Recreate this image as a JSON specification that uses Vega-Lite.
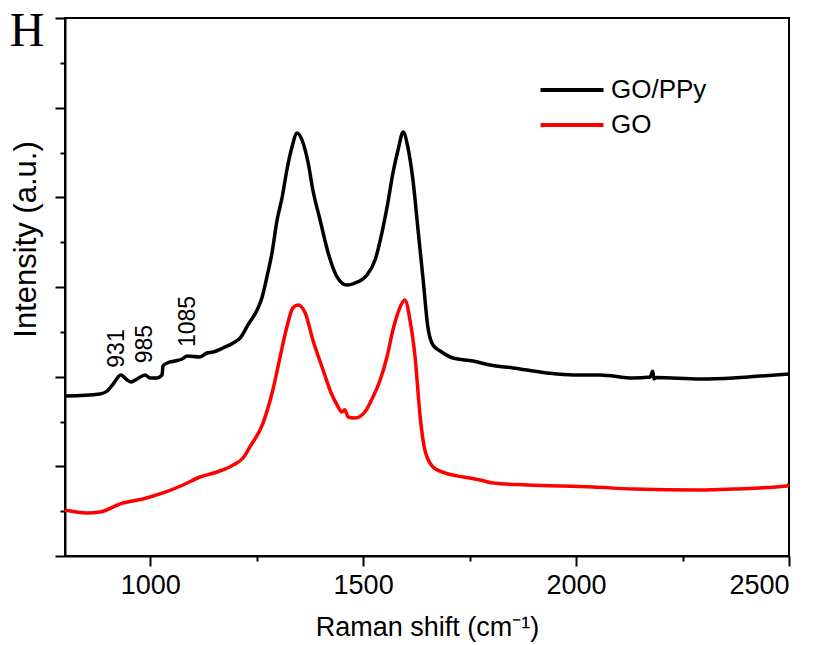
{
  "$schema": "https://vega.github.io/schema/vega-lite/v6.json",
  "width": 724,
  "height": 538,
  "autosize": {"type": "none"},
  "padding": {"left": 65, "top": 18, "right": 36, "bottom": 89},
  "background": "white",
  "config": {
    "view": {"stroke": "black", "strokeWidth": 2},
    "axis": {"domainColor": "black", "domainWidth": 2, "tickColor": "black", "tickWidth": 2, "grid": false, "labelFont": "Liberation Sans", "titleFont": "Liberation Sans", "labelColor": "black", "titleColor": "black", "titleFontWeight": "normal"}
  },
  "datasets": {
    "spectra": [
      {"shift": 800, "intensity": 1.784, "sample": "GO/PPy"},
      {"shift": 882, "intensity": 1.807, "sample": "GO/PPy"},
      {"shift": 899, "intensity": 1.840, "sample": "GO/PPy"},
      {"shift": 913, "intensity": 1.918, "sample": "GO/PPy"},
      {"shift": 931, "intensity": 2.019, "sample": "GO/PPy"},
      {"shift": 946, "intensity": 1.963, "sample": "GO/PPy"},
      {"shift": 955, "intensity": 1.940, "sample": "GO/PPy"},
      {"shift": 969, "intensity": 1.974, "sample": "GO/PPy"},
      {"shift": 988, "intensity": 2.019, "sample": "GO/PPy"},
      {"shift": 1000, "intensity": 1.985, "sample": "GO/PPy"},
      {"shift": 1016, "intensity": 1.985, "sample": "GO/PPy"},
      {"shift": 1028, "intensity": 2.019, "sample": "GO/PPy"},
      {"shift": 1030, "intensity": 2.119, "sample": "GO/PPy"},
      {"shift": 1040, "intensity": 2.152, "sample": "GO/PPy"},
      {"shift": 1058, "intensity": 2.175, "sample": "GO/PPy"},
      {"shift": 1075, "intensity": 2.197, "sample": "GO/PPy"},
      {"shift": 1087, "intensity": 2.230, "sample": "GO/PPy"},
      {"shift": 1117, "intensity": 2.219, "sample": "GO/PPy"},
      {"shift": 1133, "intensity": 2.264, "sample": "GO/PPy"},
      {"shift": 1148, "intensity": 2.275, "sample": "GO/PPy"},
      {"shift": 1171, "intensity": 2.320, "sample": "GO/PPy"},
      {"shift": 1195, "intensity": 2.375, "sample": "GO/PPy"},
      {"shift": 1211, "intensity": 2.430, "sample": "GO/PPy"},
      {"shift": 1230, "intensity": 2.580, "sample": "GO/PPy"},
      {"shift": 1251, "intensity": 2.743, "sample": "GO/PPy"},
      {"shift": 1263, "intensity": 2.888, "sample": "GO/PPy"},
      {"shift": 1274, "intensity": 3.111, "sample": "GO/PPy"},
      {"shift": 1286, "intensity": 3.379, "sample": "GO/PPy"},
      {"shift": 1298, "intensity": 3.747, "sample": "GO/PPy"},
      {"shift": 1310, "intensity": 4.004, "sample": "GO/PPy"},
      {"shift": 1321, "intensity": 4.305, "sample": "GO/PPy"},
      {"shift": 1333, "intensity": 4.561, "sample": "GO/PPy"},
      {"shift": 1345, "intensity": 4.717, "sample": "GO/PPy"},
      {"shift": 1359, "intensity": 4.606, "sample": "GO/PPy"},
      {"shift": 1371, "intensity": 4.383, "sample": "GO/PPy"},
      {"shift": 1382, "intensity": 4.082, "sample": "GO/PPy"},
      {"shift": 1399, "intensity": 3.747, "sample": "GO/PPy"},
      {"shift": 1418, "intensity": 3.379, "sample": "GO/PPy"},
      {"shift": 1439, "intensity": 3.111, "sample": "GO/PPy"},
      {"shift": 1462, "intensity": 3.022, "sample": "GO/PPy"},
      {"shift": 1481, "intensity": 3.044, "sample": "GO/PPy"},
      {"shift": 1509, "intensity": 3.134, "sample": "GO/PPy"},
      {"shift": 1528, "intensity": 3.301, "sample": "GO/PPy"},
      {"shift": 1544, "intensity": 3.602, "sample": "GO/PPy"},
      {"shift": 1558, "intensity": 3.937, "sample": "GO/PPy"},
      {"shift": 1570, "intensity": 4.271, "sample": "GO/PPy"},
      {"shift": 1582, "intensity": 4.528, "sample": "GO/PPy"},
      {"shift": 1594, "intensity": 4.728, "sample": "GO/PPy"},
      {"shift": 1605, "intensity": 4.561, "sample": "GO/PPy"},
      {"shift": 1617, "intensity": 4.193, "sample": "GO/PPy"},
      {"shift": 1629, "intensity": 3.636, "sample": "GO/PPy"},
      {"shift": 1641, "intensity": 3.078, "sample": "GO/PPy"},
      {"shift": 1652, "intensity": 2.554, "sample": "GO/PPy"},
      {"shift": 1664, "intensity": 2.353, "sample": "GO/PPy"},
      {"shift": 1681, "intensity": 2.286, "sample": "GO/PPy"},
      {"shift": 1711, "intensity": 2.208, "sample": "GO/PPy"},
      {"shift": 1758, "intensity": 2.175, "sample": "GO/PPy"},
      {"shift": 1798, "intensity": 2.130, "sample": "GO/PPy"},
      {"shift": 1852, "intensity": 2.097, "sample": "GO/PPy"},
      {"shift": 1932, "intensity": 2.041, "sample": "GO/PPy"},
      {"shift": 1993, "intensity": 2.019, "sample": "GO/PPy"},
      {"shift": 2056, "intensity": 2.019, "sample": "GO/PPy"},
      {"shift": 2134, "intensity": 1.985, "sample": "GO/PPy"},
      {"shift": 2174, "intensity": 1.996, "sample": "GO/PPy"},
      {"shift": 2180, "intensity": 2.060, "sample": "GO/PPy"},
      {"shift": 2183, "intensity": 1.975, "sample": "GO/PPy"},
      {"shift": 2189, "intensity": 1.990, "sample": "GO/PPy"},
      {"shift": 2291, "intensity": 1.974, "sample": "GO/PPy"},
      {"shift": 2369, "intensity": 1.985, "sample": "GO/PPy"},
      {"shift": 2432, "intensity": 2.007, "sample": "GO/PPy"},
      {"shift": 2500, "intensity": 2.030, "sample": "GO/PPy"},
      {"shift": 800, "intensity": 0.513, "sample": "GO"},
      {"shift": 852, "intensity": 0.480, "sample": "GO"},
      {"shift": 882, "intensity": 0.491, "sample": "GO"},
      {"shift": 936, "intensity": 0.591, "sample": "GO"},
      {"shift": 983, "intensity": 0.636, "sample": "GO"},
      {"shift": 1030, "intensity": 0.703, "sample": "GO"},
      {"shift": 1077, "intensity": 0.792, "sample": "GO"},
      {"shift": 1117, "intensity": 0.881, "sample": "GO"},
      {"shift": 1157, "intensity": 0.937, "sample": "GO"},
      {"shift": 1195, "intensity": 1.015, "sample": "GO"},
      {"shift": 1218, "intensity": 1.093, "sample": "GO"},
      {"shift": 1234, "intensity": 1.216, "sample": "GO"},
      {"shift": 1265, "intensity": 1.483, "sample": "GO"},
      {"shift": 1288, "intensity": 1.851, "sample": "GO"},
      {"shift": 1305, "intensity": 2.219, "sample": "GO"},
      {"shift": 1321, "intensity": 2.554, "sample": "GO"},
      {"shift": 1335, "intensity": 2.766, "sample": "GO"},
      {"shift": 1347, "intensity": 2.799, "sample": "GO"},
      {"shift": 1364, "intensity": 2.710, "sample": "GO"},
      {"shift": 1382, "intensity": 2.409, "sample": "GO"},
      {"shift": 1406, "intensity": 2.074, "sample": "GO"},
      {"shift": 1427, "intensity": 1.795, "sample": "GO"},
      {"shift": 1439, "intensity": 1.684, "sample": "GO"},
      {"shift": 1450, "intensity": 1.606, "sample": "GO"},
      {"shift": 1457, "intensity": 1.630, "sample": "GO"},
      {"shift": 1465, "intensity": 1.550, "sample": "GO"},
      {"shift": 1481, "intensity": 1.539, "sample": "GO"},
      {"shift": 1504, "intensity": 1.606, "sample": "GO"},
      {"shift": 1523, "intensity": 1.773, "sample": "GO"},
      {"shift": 1540, "intensity": 1.963, "sample": "GO"},
      {"shift": 1556, "intensity": 2.219, "sample": "GO"},
      {"shift": 1570, "intensity": 2.520, "sample": "GO"},
      {"shift": 1587, "intensity": 2.777, "sample": "GO"},
      {"shift": 1598, "intensity": 2.855, "sample": "GO"},
      {"shift": 1610, "intensity": 2.632, "sample": "GO"},
      {"shift": 1622, "intensity": 2.219, "sample": "GO"},
      {"shift": 1634, "intensity": 1.550, "sample": "GO"},
      {"shift": 1645, "intensity": 1.182, "sample": "GO"},
      {"shift": 1664, "intensity": 0.993, "sample": "GO"},
      {"shift": 1692, "intensity": 0.926, "sample": "GO"},
      {"shift": 1735, "intensity": 0.881, "sample": "GO"},
      {"shift": 1775, "intensity": 0.848, "sample": "GO"},
      {"shift": 1805, "intensity": 0.814, "sample": "GO"},
      {"shift": 1885, "intensity": 0.792, "sample": "GO"},
      {"shift": 2040, "intensity": 0.770, "sample": "GO"},
      {"shift": 2134, "intensity": 0.747, "sample": "GO"},
      {"shift": 2291, "intensity": 0.736, "sample": "GO"},
      {"shift": 2369, "intensity": 0.747, "sample": "GO"},
      {"shift": 2495, "intensity": 0.781, "sample": "GO"},
      {"shift": 2500, "intensity": 0.803, "sample": "GO"}
    ],
    "peaks": [
      {"shift": 922, "intensity": 2.10, "label": "931"},
      {"shift": 988, "intensity": 2.15, "label": "985"},
      {"shift": 1089, "intensity": 2.33, "label": "1085"}
    ],
    "panel": [
      {"shift": 711, "intensity": 5.685, "label": "H"}
    ]
  },
  "layer": [
    {
      "data": {"name": "spectra"},
      "mark": {"type": "line", "strokeWidth": 3.5, "interpolate": "monotone"},
      "encoding": {
        "x": {"field": "shift", "type": "quantitative",
          "scale": {"domain": [800, 2500], "nice": false, "zero": false},
          "axis": {"title": "Raman shift (cm⁻¹)", "values": [1000, 1250, 1500, 1750, 2000, 2250, 2500],
            "labelExpr": "datum.value % 500 === 0 ? datum.label : ''", "format": "d",
            "tickSize": {"condition": {"test": "datum.value % 500 === 0", "value": 10}, "value": 5},
            "labelFontSize": 27, "labelPadding": 6, "titleFontSize": 27,
            "titleBaseline": "alphabetic", "titleY": 79, "titleX": 362, "titleAnchor": "middle"}},
        "y": {"field": "intensity", "type": "quantitative",
          "scale": {"domain": [0, 6], "nice": false, "zero": false},
          "axis": {"title": "Intensity (a.u.)", "values": [0, 0.5, 1, 1.5, 2, 2.5, 3, 3.5, 4, 4.5, 5, 5.5, 6],
            "labels": false,
            "tickSize": {"condition": {"test": "datum.value % 1 === 0", "value": 10}, "value": 5},
            "titleFontSize": 31, "titleX": -39, "titleY": 221, "titleAngle": -90, "titleAlign": "center", "titleBaseline": "middle"}},
        "color": {"field": "sample", "type": "nominal",
          "scale": {"domain": ["GO/PPy", "GO"], "range": ["black", "red"]},
          "legend": {"title": null, "orient": "none", "legendX": 489, "legendY": 54,
            "symbolType": "M-2,0H2", "symbolStrokeWidth": 4, "symbolSize": 992,
            "labelFont": "Liberation Sans", "labelFontSize": 26, "labelColor": "black",
            "labelOffset": 21, "rowPadding": 4, "padding": 0}}
      }
    },
    {
      "data": {"name": "peaks"},
      "mark": {"type": "text", "angle": 270, "align": "left", "baseline": "middle", "font": "Liberation Sans", "fontSize": 23, "color": "black"},
      "encoding": {
        "x": {"field": "shift", "type": "quantitative"},
        "y": {"field": "intensity", "type": "quantitative"},
        "text": {"field": "label"}
      }
    },
    {
      "data": {"name": "panel"},
      "mark": {"type": "text", "align": "center", "baseline": "alphabetic", "font": "Liberation Serif", "fontSize": 48, "color": "black", "clip": false},
      "encoding": {
        "x": {"field": "shift", "type": "quantitative"},
        "y": {"field": "intensity", "type": "quantitative"},
        "text": {"field": "label"}
      }
    }
  ]
}
